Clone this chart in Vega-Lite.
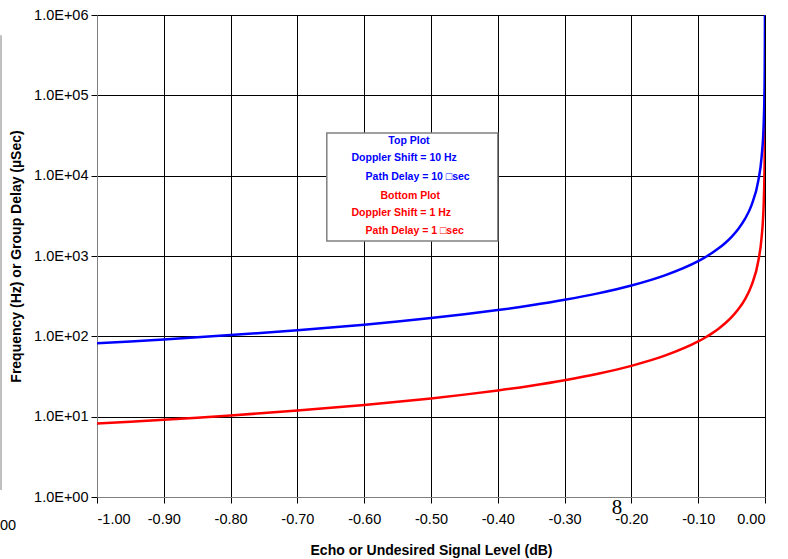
{
  "$schema": "https://vega.github.io/schema/vega-lite/v6.json",
  "autosize": {"type": "none"},
  "width": 668,
  "height": 482,
  "padding": {"left": 97, "top": 15, "right": 23, "bottom": 62},
  "background": "white",
  "config": {
    "view": {"stroke": "#808080", "strokeWidth": 1},
    "font": "Liberation Sans",
    "axis": {
      "labelFont": "Liberation Sans",
      "labelFontSize": 14.5,
      "labelColor": "#000",
      "titleFont": "Liberation Sans",
      "titleFontSize": 14,
      "titleFontWeight": "bold",
      "titleColor": "#000",
      "gridColor": "#000",
      "gridOpacity": 1,
      "gridWidth": 1,
      "tickColor": "#000",
      "tickSize": 6,
      "domainColor": "#808080"
    }
  },
  "datasets": {
    "curves": [
      {"L": -1.00, "f": 8.1955, "series": "Bottom"},
      {"L": -0.95, "f": 8.6522, "series": "Bottom"},
      {"L": -0.90, "f": 9.1597, "series": "Bottom"},
      {"L": -0.85, "f": 9.7268, "series": "Bottom"},
      {"L": -0.80, "f": 10.365, "series": "Bottom"},
      {"L": -0.75, "f": 11.088, "series": "Bottom"},
      {"L": -0.70, "f": 11.915, "series": "Bottom"},
      {"L": -0.65, "f": 12.869, "series": "Bottom"},
      {"L": -0.60, "f": 13.982, "series": "Bottom"},
      {"L": -0.55, "f": 15.298, "series": "Bottom"},
      {"L": -0.50, "f": 16.876, "series": "Bottom"},
      {"L": -0.45, "f": 18.806, "series": "Bottom"},
      {"L": -0.40, "f": 21.218, "series": "Bottom"},
      {"L": -0.35, "f": 24.320, "series": "Bottom"},
      {"L": -0.30, "f": 28.456, "series": "Bottom"},
      {"L": -0.25, "f": 34.247, "series": "Bottom"},
      {"L": -0.20, "f": 42.932, "series": "Bottom"},
      {"L": -0.15, "f": 57.41, "series": "Bottom"},
      {"L": -0.10, "f": 86.36, "series": "Bottom"},
      {"L": -0.09, "f": 96.01, "series": "Bottom"},
      {"L": -0.08, "f": 108.08, "series": "Bottom"},
      {"L": -0.07, "f": 123.59, "series": "Bottom"},
      {"L": -0.06, "f": 144.26, "series": "Bottom"},
      {"L": -0.05, "f": 173.22, "series": "Bottom"},
      {"L": -0.04, "f": 216.65, "series": "Bottom"},
      {"L": -0.03, "f": 289.03, "series": "Bottom"},
      {"L": -0.02, "f": 433.78, "series": "Bottom"},
      {"L": -0.01, "f": 868.1, "series": "Bottom"},
      {"L": -0.005, "f": 1736.7, "series": "Bottom"},
      {"L": -0.002, "f": 4342.4, "series": "Bottom"},
      {"L": -0.001, "f": 8685.4, "series": "Bottom"},
      {"L": -0.0005, "f": 17371, "series": "Bottom"},
      {"L": -0.0002, "f": 43429, "series": "Bottom"},
      {"L": -0.0000869, "f": 100000, "series": "Bottom"},
      {"L": -1.00, "f": 81.955, "series": "Top"},
      {"L": -0.95, "f": 86.522, "series": "Top"},
      {"L": -0.90, "f": 91.597, "series": "Top"},
      {"L": -0.85, "f": 97.268, "series": "Top"},
      {"L": -0.80, "f": 103.65, "series": "Top"},
      {"L": -0.75, "f": 110.88, "series": "Top"},
      {"L": -0.70, "f": 119.15, "series": "Top"},
      {"L": -0.65, "f": 128.69, "series": "Top"},
      {"L": -0.60, "f": 139.82, "series": "Top"},
      {"L": -0.55, "f": 152.98, "series": "Top"},
      {"L": -0.50, "f": 168.76, "series": "Top"},
      {"L": -0.45, "f": 188.06, "series": "Top"},
      {"L": -0.40, "f": 212.18, "series": "Top"},
      {"L": -0.35, "f": 243.20, "series": "Top"},
      {"L": -0.30, "f": 284.56, "series": "Top"},
      {"L": -0.25, "f": 342.47, "series": "Top"},
      {"L": -0.20, "f": 429.32, "series": "Top"},
      {"L": -0.15, "f": 574.1, "series": "Top"},
      {"L": -0.10, "f": 863.6, "series": "Top"},
      {"L": -0.09, "f": 960.1, "series": "Top"},
      {"L": -0.08, "f": 1080.8, "series": "Top"},
      {"L": -0.07, "f": 1235.9, "series": "Top"},
      {"L": -0.06, "f": 1442.6, "series": "Top"},
      {"L": -0.05, "f": 1732.2, "series": "Top"},
      {"L": -0.04, "f": 2166.5, "series": "Top"},
      {"L": -0.03, "f": 2890.3, "series": "Top"},
      {"L": -0.02, "f": 4337.8, "series": "Top"},
      {"L": -0.01, "f": 8681, "series": "Top"},
      {"L": -0.005, "f": 17367, "series": "Top"},
      {"L": -0.002, "f": 43424, "series": "Top"},
      {"L": -0.001, "f": 86854, "series": "Top"},
      {"L": -0.0005, "f": 173710, "series": "Top"},
      {"L": -0.0002, "f": 434290, "series": "Top"},
      {"L": -0.0000869, "f": 1000000, "series": "Top"}
    ]
  },
  "layer": [
    {
      "data": {"name": "curves"},
      "mark": {"type": "line", "strokeWidth": 2.5, "interpolate": "monotone", "clip": true},
      "encoding": {
        "x": {
          "field": "L", "type": "quantitative",
          "scale": {"domain": [-1, 0], "nice": false, "zero": false},
          "axis": {
            "title": "Echo or Undesired Signal Level (dB)",
            "values": [-1, -0.9, -0.8, -0.7, -0.6, -0.5, -0.4, -0.3, -0.2, -0.1, 0],
            "labelExpr": "replace(format(datum.value, '.2f'), '−', '-')",
            "labelPadding": 9,
            "titlePadding": 18,
            "grid": true
          }
        },
        "y": {
          "field": "f", "type": "quantitative",
          "scale": {"type": "log", "domain": [1, 1000000], "nice": false},
          "axis": {
            "title": "Frequency (Hz) or Group Delay (µSec)",
            "values": [1, 10, 100, 1000, 10000, 100000, 1000000],
            "labelExpr": "'1.0E+0' + round(log(datum.value) / LN10)",
            "labelPadding": 3,
            "titlePadding": 10,
            "grid": true
          }
        },
        "color": {
          "field": "series", "type": "nominal",
          "scale": {"domain": ["Top", "Bottom"], "range": ["#0000FF", "#FF0000"]},
          "legend": null
        },
        "detail": {"field": "series"}
      }
    },
    {
      "data": {"values": [{}]},
      "mark": {"type": "rect", "fill": "white", "stroke": "#808080", "strokeWidth": 1.5},
      "encoding": {
        "x": {"datum": -0.656, "type": "quantitative"},
        "x2": {"datum": -0.400},
        "y": {"datum": 33960, "type": "quantitative"},
        "y2": {"datum": 1538}
      }
    },
    {
      "data": {"values": [{}]},
      "mark": {"type": "text", "font": "Liberation Sans", "fontWeight": "bold", "fontSize": 10.5, "color": "#0000FF", "align": "center", "baseline": "middle"},
      "encoding": {"x": {"datum": -0.533, "type": "quantitative"}, "y": {"datum": 27010, "type": "quantitative"}, "text": {"value": "Top Plot"}}
    },
    {
      "data": {"values": [{}]},
      "mark": {"type": "text", "font": "Liberation Sans", "fontWeight": "bold", "fontSize": 10.5, "color": "#0000FF", "align": "left", "baseline": "middle"},
      "encoding": {"x": {"datum": -0.619, "type": "quantitative"}, "y": {"datum": 16596, "type": "quantitative"}, "text": {"value": "Doppler Shift = 10 Hz"}}
    },
    {
      "data": {"values": [{}]},
      "mark": {"type": "text", "font": "Liberation Sans", "fontWeight": "bold", "fontSize": 10.5, "color": "#0000FF", "align": "left", "baseline": "middle"},
      "encoding": {"x": {"datum": -0.598, "type": "quantitative"}, "y": {"datum": 9616, "type": "quantitative"}, "text": {"value": "Path Delay = 10 □sec"}}
    },
    {
      "data": {"values": [{}]},
      "mark": {"type": "text", "font": "Liberation Sans", "fontWeight": "bold", "fontSize": 10.5, "color": "#FF0000", "align": "center", "baseline": "middle"},
      "encoding": {"x": {"datum": -0.531, "type": "quantitative"}, "y": {"datum": 5585, "type": "quantitative"}, "text": {"value": "Bottom Plot"}}
    },
    {
      "data": {"values": [{}]},
      "mark": {"type": "text", "font": "Liberation Sans", "fontWeight": "bold", "fontSize": 10.5, "color": "#FF0000", "align": "left", "baseline": "middle"},
      "encoding": {"x": {"datum": -0.619, "type": "quantitative"}, "y": {"datum": 3428, "type": "quantitative"}, "text": {"value": "Doppler Shift = 1 Hz"}}
    },
    {
      "data": {"values": [{}]},
      "mark": {"type": "text", "font": "Liberation Sans", "fontWeight": "bold", "fontSize": 10.5, "color": "#FF0000", "align": "left", "baseline": "middle"},
      "encoding": {"x": {"datum": -0.598, "type": "quantitative"}, "y": {"datum": 2046, "type": "quantitative"}, "text": {"value": "Path Delay = 1 □sec"}}
    },
    {
      "data": {"values": [{}]},
      "mark": {"type": "text", "font": "Liberation Serif", "fontSize": 21, "color": "#000", "align": "center", "baseline": "middle"},
      "encoding": {"x": {"datum": -0.2216, "type": "quantitative"}, "y": {"datum": 0.72, "type": "quantitative"}, "text": {"value": "8"}}
    },
    {
      "data": {"values": [{}]},
      "mark": {"type": "text", "font": "Liberation Sans", "fontSize": 14.5, "color": "#000", "align": "left", "baseline": "middle"},
      "encoding": {"x": {"datum": -1.1452, "type": "quantitative"}, "y": {"datum": 0.43, "type": "quantitative"}, "text": {"value": "00"}}
    },
    {
      "data": {"values": [{}]},
      "mark": {"type": "rule", "color": "#808080", "strokeWidth": 1},
      "encoding": {"x": {"datum": -1.1437, "type": "quantitative"}, "y": {"datum": 560000, "type": "quantitative"}, "y2": {"datum": 1.22}}
    }
  ]
}
